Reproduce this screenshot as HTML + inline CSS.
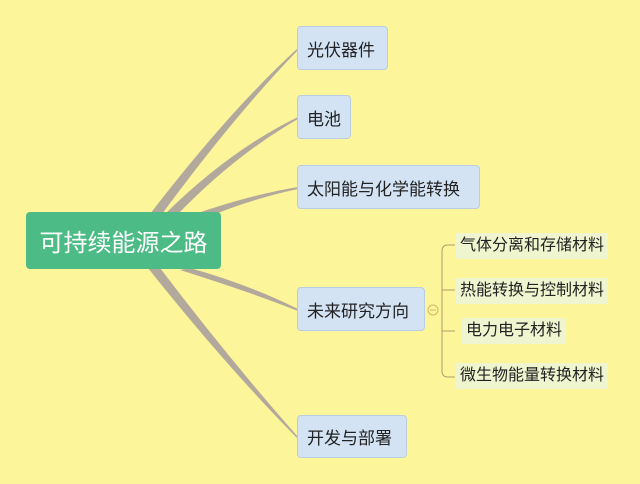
<!DOCTYPE html>
<html><head><meta charset="utf-8"><style>
body{margin:0;width:640px;height:484px;background:#fdf59a;position:relative;overflow:hidden;font-family:"Liberation Sans","Noto Sans CJK SC",sans-serif}
.b{position:absolute;background:#d3e3f4;border:1px solid #b9cde3;border-radius:4px;color:#222;font-size:17px;display:flex;align-items:center;padding-left:9px;box-sizing:border-box}
.s{position:absolute;background:#eef5cf;color:#222;font-size:16px;height:26px;line-height:26px;padding:0 4px}
</style></head><body>
<svg width="640" height="484" style="position:absolute;left:0;top:0">
<g fill="#b2a99c">
<path d="M150 214 Q230 110 298 48 L298 50 Q235 115 162 214Z"/>
<path d="M165 214 Q230 150 298 117 L298 119 Q235 155 178 214Z"/>
<path d="M195 214 Q250 195 298 187 L298 189 Q255 198 210 216Z"/>
<path d="M190 268 Q250 285 298 309 L298 311 Q250 292 180 270Z"/>
<path d="M160 268 Q230 360 298 437 L298 439 Q225 365 148 268Z"/>
</g>
<g fill="none" stroke="#b39a6a" stroke-width="1">
<path d="M455 245 H448 Q442 245 442 251 V371 Q442 377 448 377 H455"/>
<path d="M442 290 H455 M442 331 H455"/>
</g>
<circle cx="433" cy="310" r="5" fill="none" stroke="#d4b56a"/>
<line x1="430" y1="310" x2="436" y2="310" stroke="#d4b56a"/>
</svg>
<div style="position:absolute;left:26px;top:212px;width:195px;height:57px;background:#4dbb86;border-radius:4px;color:#fff;font-size:24px;display:flex;align-items:center;justify-content:center">可持续能源之路</div>
<div class="b" style="left:297px;top:26px;width:91px;height:44px">光伏器件</div>
<div class="b" style="left:297px;top:95px;width:54px;height:44px">电池</div>
<div class="b" style="left:297px;top:165px;width:183px;height:44px">太阳能与化学能转换</div>
<div class="b" style="left:297px;top:287px;width:128px;height:44px">未来研究方向</div>
<div class="b" style="left:297px;top:415px;width:110px;height:43px">开发与部署</div>
<div class="s" style="left:456px;top:233px">气体分离和存储材料</div>
<div class="s" style="left:456px;top:278px">热能转换与控制材料</div>
<div class="s" style="left:462px;top:318px">电力电子材料</div>
<div class="s" style="left:456px;top:363px">微生物能量转换材料</div>
</body></html>
